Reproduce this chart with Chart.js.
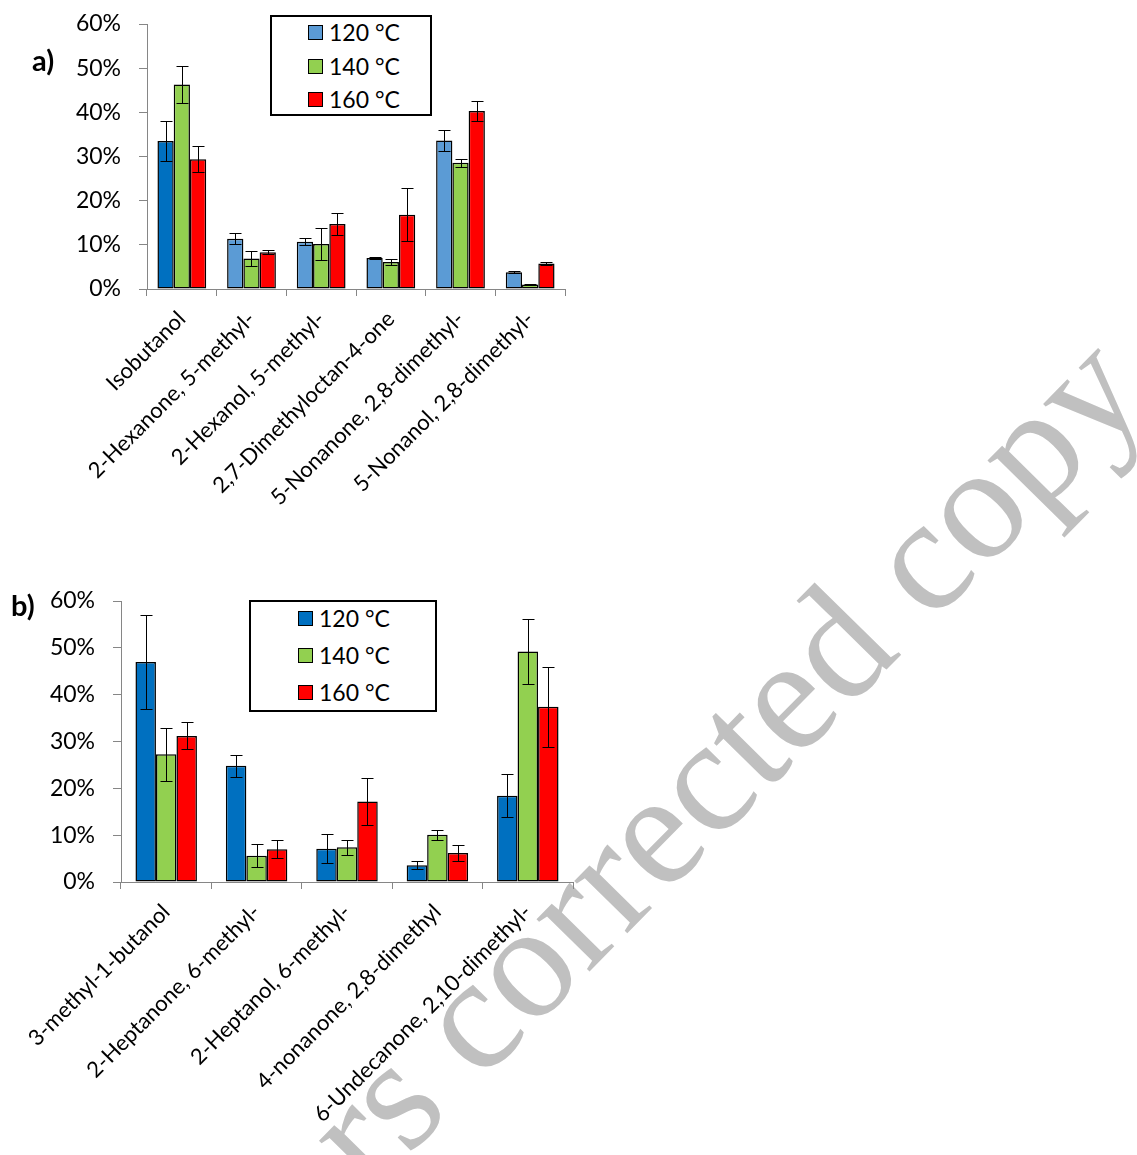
<!DOCTYPE html>
<html>
<head>
<meta charset="utf-8">
<script src="https://cdn.jsdelivr.net/npm/chart.js@4.4.0/dist/chart.umd.min.js"></script>
<style>
  body { margin: 0; background: #fff; }
  #page { position: relative; width: 1137px; height: 1155px; overflow: hidden; font-family: Lato, sans-serif; }
  #mark { position: absolute; left: 0; top: 0; }
  canvas.chart { position: absolute; left: 0; }
  .legend { position: absolute; border: 2px solid #000; background: #fff; box-sizing: border-box; }
  .legend .row { position: absolute; display: flex; align-items: center; font-size: 23px; line-height: 1; white-space: nowrap; }
  .legend .sw { width: 13px; height: 13px; border: 1.5px solid #000; margin-right: 6px; }
  .tag { position: absolute; font-weight: bold; font-size: 29px; line-height: 1; }
</style>
</head>
<body>
<div id="page">
  <canvas id="mark" width="1137" height="1155"></canvas>
  <canvas id="chartA" class="chart" width="600" height="540" style="top:0"></canvas>
  <canvas id="chartB" class="chart" width="620" height="570" style="top:585px"></canvas>
  <div class="tag" style="left:32px;top:45px">a)</div>
  <div class="tag" style="left:11px;top:590px">b)</div>
  <div id="legendA" class="legend" style="left:270px;top:15px;width:162px;height:101px"></div>
  <div id="legendB" class="legend" style="left:249px;top:600px;width:188px;height:112px"></div>
</div>
<script>
// --- data ---
const seriesNames = ['120 °C', '140 °C', '160 °C'];

const catsA = ['Isobutanol', '2-Hexanone, 5-methyl-', '2-Hexanol, 5-methyl-',
  '2,7-Dimethyloctan-4-one', '5-Nonanone, 2,8-dimethyl-', '5-Nonanol, 2,8-dimethyl-'];
const a120 = [33.5, 11.4, 10.7, 7.0, 33.6, 3.8];
const a120Err = [4.5, 1.2, 0.8, 0.2, 2.4, 0.2];
const a140 = [46.3, 6.9, 10.2, 6.1, 28.6, 1.0];
const a140Err = [4.1, 1.6, 3.6, 0.6, 0.9, 0.1];
const a160 = [29.4, 8.3, 14.7, 16.8, 40.3, 5.8];
const a160Err = [2.9, 0.45, 2.4, 6.0, 2.35, 0.3];

const catsB = ['3-methyl-1-butanol', '2-Heptanone, 6-methyl-', '2-Heptanol, 6-methyl-',
  '4-nonanone, 2,8-dimethyl', '6-Undecanone, 2,10-dimethyl-'];
const b120 = [47.0, 24.8, 7.1, 3.6, 18.4];
const b120Err = [10.0, 2.35, 3.1, 0.85, 4.6];
const b140 = [27.3, 5.6, 7.4, 10.1, 49.2];
const b140Err = [5.65, 2.45, 1.6, 1.05, 6.9];
const b160 = [31.2, 7.0, 17.2, 6.2, 37.4];
const b160Err = [2.9, 1.95, 5.1, 1.75, 8.55];

const yTicks = [0, 10, 20, 30, 40, 50, 60];

// --- styling ---
const DARK_BLUE = '#0070C0';
const LIGHT_BLUE = '#5B9BD5';
const GREEN = '#92D050';
const RED = '#FF0000';
const AXIS = '#868686';
const FONT = 'Lato';

const errorBars = {
  id: 'errorBars',
  afterDatasetsDraw(chart) {
    const ctx = chart.ctx;
    const y = chart.scales.y;
    ctx.save();
    ctx.strokeStyle = '#000';
    ctx.lineWidth = 1;
    chart.data.datasets.forEach((ds, di) => {
      chart.getDatasetMeta(di).data.forEach((bar, i) => {
        const v = ds.data[i], e = ds.errors[i];
        const top = Math.round(y.getPixelForValue(v + e)) + 0.5;
        const bot = Math.round(y.getPixelForValue(Math.max(0, v - e))) + 0.5;
        const x = Math.round(bar.x) + 0.5;
        ctx.beginPath();
        ctx.moveTo(x, top); ctx.lineTo(x, bot);
        ctx.moveTo(x - 6, top); ctx.lineTo(x + 6, top);
        ctx.moveTo(x - 6, bot); ctx.lineTo(x + 6, bot);
        ctx.stroke();
      });
    });
    ctx.restore();
  }
};

function makeDataset(label, data, errors, color, catPct) {
  return {
    label, data, errors,
    backgroundColor: color,
    borderColor: '#000',
    borderWidth: 1.5,
    borderSkipped: false,
    barPercentage: 1,
    categoryPercentage: catPct
  };
}

function makeChart(id, labels, datasets, box) {
  return new Chart(document.getElementById(id), {
    type: 'bar',
    data: { labels, datasets },
    plugins: [errorBars],
    options: {
      responsive: false,
      animation: false,
      devicePixelRatio: 1,
      layout: { padding: { top: box.top, right: box.right, left: 0, bottom: 0 } },
      plugins: { legend: { display: false }, tooltip: { enabled: false } },
      scales: {
        x: {
          grid: { drawOnChartArea: false, tickLength: 7, color: AXIS },
          border: { color: AXIS },
          ticks: { color: '#000', font: { family: FONT, size: 22 }, minRotation: 45, maxRotation: 45, padding: 10, autoSkip: false },
          afterFit(s) { s.height = box.xHeight; }
        },
        y: {
          min: yTicks[0], max: yTicks[yTicks.length - 1],
          afterBuildTicks(s) { s.ticks = yTicks.map(v => ({ value: v })); },
          ticks: { color: '#000', font: { family: FONT, size: 23 }, padding: 18, callback: v => v + '%' },
          grid: { drawOnChartArea: false, tickLength: 8, color: AXIS },
          border: { color: AXIS },
          // fixed axis width; drop the label overflow padding so the plot top is set by layout.padding
          afterFit(s) { s.width = box.yWidth; s.paddingTop = 0; s.paddingBottom = 0; }
        }
      }
    }
  });
}

function buildLegend(id, colors, rowTops, left) {
  const el = document.getElementById(id);
  seriesNames.forEach((name, i) => {
    const row = document.createElement('div');
    row.className = 'row';
    row.style.left = left + 'px';
    row.style.top = rowTops[i] + 'px';
    row.innerHTML = '<span class="sw" style="background:' + colors[i] + '"></span><span>' + name + '</span>';
    el.appendChild(row);
  });
}

function drawWatermark() {
  const c = document.getElementById('mark');
  const ctx = c.getContext('2d');
  const size = 162;
  ctx.font = size + 'px "Liberation Serif"';
  ctx.fillStyle = '#C0C0C0';
  const text = 'Authors corrected copy';
  const before = ctx.measureText('Authors corrected c').width;
  const oHalf = ctx.measureText('o').width / 2;
  ctx.translate(983, 518);
  ctx.rotate(-45.5 * Math.PI / 180);
  ctx.fillText(text, -(before + oHalf), size * 0.23);
}

drawWatermark();

const aColors120 = a120.map((v, i) => i === 0 ? DARK_BLUE : LIGHT_BLUE);
makeChart('chartA', catsA, [
  makeDataset(seriesNames[0], a120, a120Err, aColors120, 0.7),
  makeDataset(seriesNames[1], a140, a140Err, GREEN, 0.7),
  makeDataset(seriesNames[2], a160, a160Err, RED, 0.7)
], { top: 24, right: 35, yWidth: 147, xHeight: 540 - 289 });

makeChart('chartB', catsB, [
  makeDataset(seriesNames[0], b120, b120Err, DARK_BLUE, 0.68),
  makeDataset(seriesNames[1], b140, b140Err, GREEN, 0.68),
  makeDataset(seriesNames[2], b160, b160Err, RED, 0.68)
], { top: 16, right: 47, yWidth: 121, xHeight: 570 - 297 });

buildLegend('legendA', [LIGHT_BLUE, GREEN, RED], [4, 38, 71], 36);
buildLegend('legendB', [DARK_BLUE, GREEN, RED], [5, 42, 79], 47);
</script>
</body>
</html>
